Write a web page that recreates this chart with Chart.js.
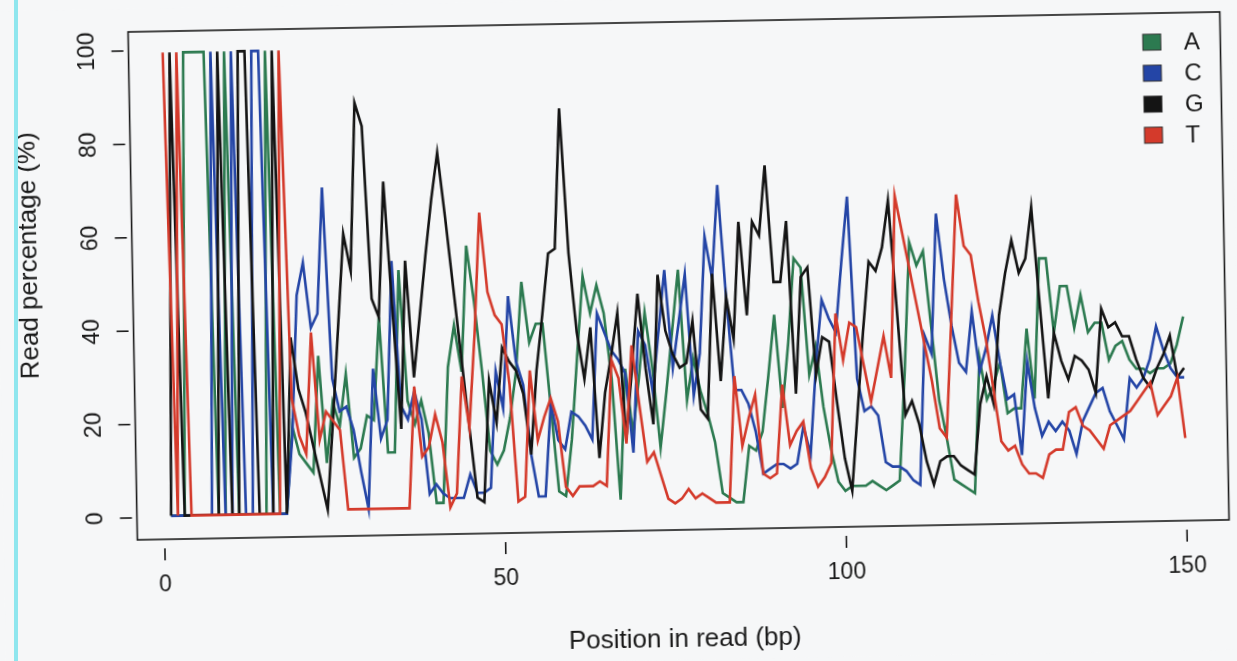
<!DOCTYPE html>
<html><head><meta charset="utf-8">
<script src="https://cdn.jsdelivr.net/npm/chart.js@4.4.1/dist/chart.umd.min.js"></script>
<style>
html,body{margin:0;padding:0;background:#f6f7f8;overflow:hidden;width:1237px;height:661px;}
#wrap{position:absolute;left:0;top:0;width:1237px;height:661px;transform:rotate(-1.05deg);transform-origin:618.5px 330.5px;}
#edge{position:absolute;left:14px;top:0;width:4px;height:661px;background:#8fe6ee;}
</style></head><body>
<div id="wrap"><canvas id="c" width="1237" height="661"></canvas></div>
<div id="edge"></div>
<script>
// positions 1..150 along the read
const positions = Array.from({length: 150}, (_, i) => i + 1);
const xTicks = [0, 50, 100, 150];
const yTicks = [0, 20, 40, 60, 80, 100];
const xTitle = 'Position in read (bp)';
const yTitle = 'Read percentage (%)';
const seriesNames = ['A', 'C', 'G', 'T'];

const valuesA = [0.3,0.3,0.3,99.5,99.5,99.5,99.5,0.3,0.3,99.5,0.3,0.3,0.3,0.3,0.3,99.5,0.3,0.3,
19,13,11,9,34,11,24,19,30,12,
14,21,20,42,13,13,52,24,19,24,
17,2,2,31,40,30,57,45,30,13,
10,13,20,30,49,36,40,40,22,4,
3,15,33,50,42,48,42,28,2,30,
16,28,42,30,13,25,38,51,23,32,
25,20,14,3,2,1,1,13,12,16,
28,41,21,35,53,51,28,34,21,12,
5,3,4,4,4,5,4,3,4,5,
28,56,51,54,38,22,14,5,4,3,
2,31,22,25,30,19,20,20,37,22,
52,52,36,46,46,37,44,36,38,38,
30,33,34,30,28,28,27,28,28,29,
33,39];

const valuesC = [0.3,0.3,0.3,0.3,0.3,0.3,0.3,99.5,0.3,0.3,99.5,0.3,0.3,99.5,99.5,0.3,0.3,0.3,
17,47,54,40,43,70,29,22,23,18,
9,1,31,16,20,54,23,20,26,20,
4,6,4,3,3,3,8,4,4,5,
30,22,46,32,27,12,3,3,23,15,
13,21,20,18,15,42,38,34,32,29,
12,38,35,25,38,51,30,40,50,24,
33,58,49,69,45,25,25,22,16,7,
8,9,9,8,9,17,11,30,44,40,
37,52,66,27,20,21,19,9,8,8,
7,5,4,36,32,62,48,38,30,28,
41,28,33,40,30,22,23,10,30,20,
14,17,15,17,15,10,17,20,23,24,
19,16,13,26,24,26,30,37,32,28,
26,26];

const valuesG = [0.3,99.5,0.3,0.3,0.3,0.3,0.3,0.3,99.5,0.3,0.3,99.5,99.5,0.3,0.3,0.3,99.5,0.3,
38,27,22,15,8,1,20,40,60,52,
88,83,46,42,71,44,18,54,29,42,
55,67,77,63,48,33,18,3,2,28,
19,35,32,30,25,12,30,42,55,56,
86,55,38,28,39,11,25,33,42,15,
30,46,30,18,50,38,33,30,31,40,
21,19,50,27,45,36,61,41,61,58,
73,48,48,61,24,49,51,28,36,35,
22,10,3,20,37,52,50,55,65,42,
19,22,17,9,4,9,10,10,8,7,
6,21,27,21,40,49,56,49,52,63,
42,22,36,30,26,31,30,28,23,41,
37,38,35,35,30,26,24,28,31,35,
26,28];

const valuesT = [99.5,0.3,99.5,0.3,0.3,0.3,0.3,0.3,0.3,0.3,0.3,0.3,0.3,0.3,0.3,0.3,0.3,99.5,
25,17,13,39,16,22,20,18,1,1,
1,1,1,1,1,1,1,1,27,12,
14,21,15,1,4,29,18,38,64,47,
42,40,27,2,3,30,15,20,24,19,
5,3,5,5,5,6,5,32,28,14,
35,22,10,12,7,2,1,2,4,2,
3,2,1,1,1,28,13,19,24,7,
6,7,26,13,16,18,8,4,6,9,
41,31,39,38,30,22,29,36,27,66,
58,50,42,34,26,16,14,40,66,55,
53,43,35,24,13,11,12,8,6,6,
5,10,11,11,19,20,16,15,13,11,
16,17,18,19,21,23,25,18,20,22,
26,13];

const colors = ['#2c7a50', '#2445a6', '#141414', '#d43a2b'];
const allValues = [valuesA, valuesC, valuesG, valuesT];

const datasets = seriesNames.map((name, k) => ({
  label: name,
  data: positions.map((p, i) => ({x: p, y: allValues[k][i]})),
  borderColor: colors[k],
  backgroundColor: colors[k],
  borderWidth: 2.6,
  pointRadius: 0,
  tension: 0,
  fill: false,
  order: 3 - k
}));

const FONT = '"Liberation Sans", Arial, Helvetica, sans-serif';

const frame = {
  id: 'frame',
  beforeDraw(chart) {
    const {ctx, width, height} = chart;
    ctx.save();
    ctx.fillStyle = '#f6f7f8';
    ctx.fillRect(0, 0, width, height);
    ctx.restore();
  },
  afterDraw(chart) {
    const {ctx, chartArea: a, scales: {x, y}} = chart;
    ctx.save();
    ctx.strokeStyle = '#1a1a1a';
    ctx.fillStyle = '#1a1a1a';
    ctx.lineWidth = 1.6;
    ctx.strokeRect(a.left, a.top, a.right - a.left, a.bottom - a.top);
    ctx.font = '23px ' + FONT;
    ctx.textAlign = 'center';
    ctx.textBaseline = 'middle';
    xTicks.forEach(v => {
      const px = x.getPixelForValue(v);
      ctx.beginPath(); ctx.moveTo(px, a.bottom + 9); ctx.lineTo(px, a.bottom + 21); ctx.stroke();
      ctx.fillText(String(v), px, a.bottom + 46);
    });
    yTicks.forEach(v => {
      const py = y.getPixelForValue(v);
      ctx.beginPath(); ctx.moveTo(a.left - 17, py); ctx.lineTo(a.left - 5, py); ctx.stroke();
      ctx.save(); ctx.translate(a.left - 41, py); ctx.rotate(-Math.PI / 2);
      ctx.fillText(String(v), 0, 0); ctx.restore();
    });
    ctx.font = '26px ' + FONT;
    ctx.fillText(xTitle, (a.left + a.right) / 2, 641);
    ctx.save(); ctx.translate(31, 245); ctx.rotate(-Math.PI / 2);
    ctx.fillText(yTitle, 0, 0); ctx.restore();
    // legend
    ctx.font = '24px ' + FONT;
    ctx.textAlign = 'left';
    chart.data.datasets.forEach((ds, i) => {
      const cy = 52 + i * 31;
      ctx.fillStyle = ds.borderColor;
      ctx.fillRect(1148, cy - 8, 18, 16);
      ctx.strokeStyle = '#333';
      ctx.lineWidth = 1;
      ctx.strokeRect(1148, cy - 8, 18, 16);
      ctx.fillStyle = '#1a1a1a';
      ctx.fillText(ds.label, 1189, cy + 1);
    });
    ctx.restore();
  }
};

new Chart(document.getElementById('c'), {
  type: 'line',
  data: {datasets},
  options: {
    responsive: false,
    animation: false,
    devicePixelRatio: 1,
    layout: {padding: {top: 23, right: 11.5, left: 0, bottom: 0}},
    plugins: {legend: {display: false}, tooltip: {enabled: false}},
    scales: {
      x: {
        type: 'linear', min: -4.02, max: 156.2,
        grid: {display: false}, border: {display: false},
        ticks: {display: false},
        afterFit(s) { s.height = 130; }
      },
      y: {
        type: 'linear', min: -4.71, max: 104.07,
        grid: {display: false}, border: {display: false},
        ticks: {display: false},
        afterFit(s) { s.width = 133.6; }
      }
    }
  },
  plugins: [frame]
});
</script></body></html>
